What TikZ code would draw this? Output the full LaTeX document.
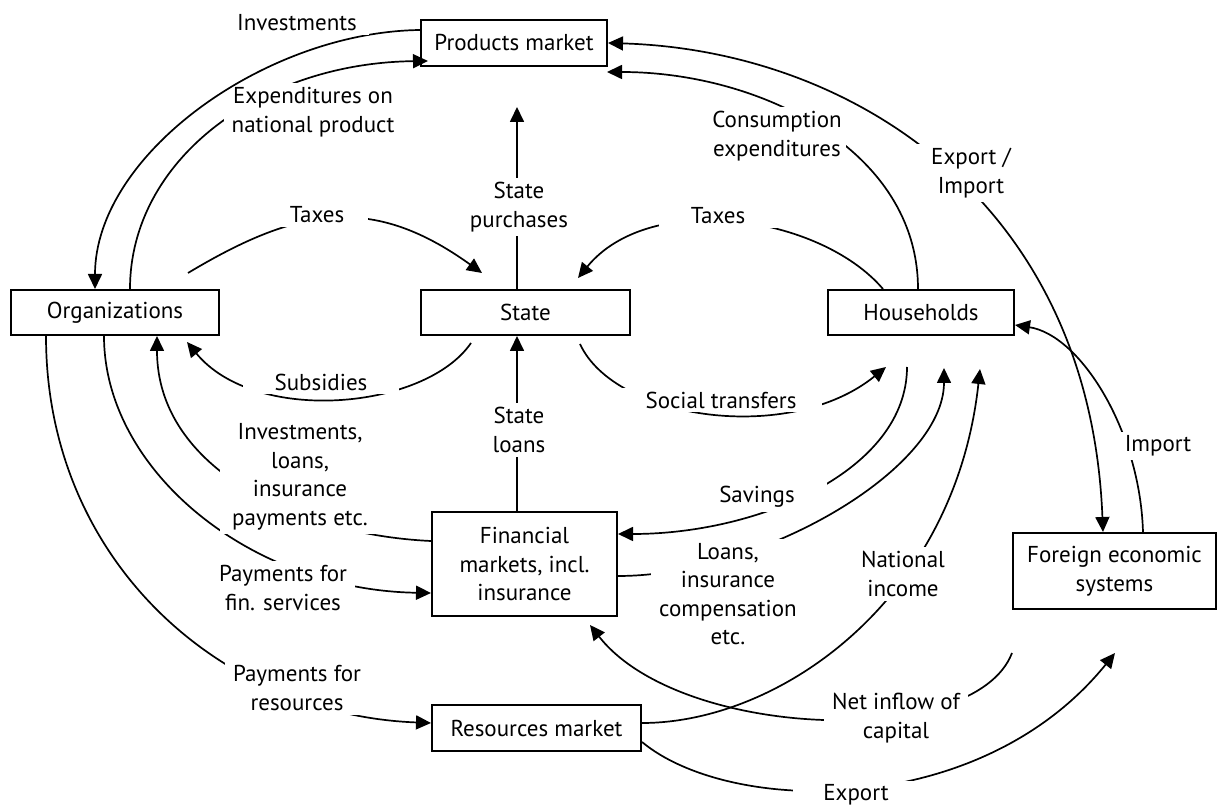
\documentclass[tikz,border=0pt]{standalone}
\usepackage{fontspec}
\setmainfont{PT Sans}
\usetikzlibrary{arrows.meta}
\newcommand{\lblfont}{\fontsize{11.5}{14.25}\selectfont}
\tikzset{
  box/.style={draw, line width=1pt, fill=white, inner sep=0pt, align=center, font=\lblfont},
  lab/.style={fill=white, inner xsep=4pt, inner ysep=2pt, align=center, font=\lblfont},
  flow/.style={line width=0.85pt, -{Triangle[length=7.5pt,width=7pt]}},
  both/.style={line width=0.85pt, {Triangle[length=7.5pt,width=7pt]}-{Triangle[length=7.5pt,width=7pt]}},
}
\begin{document}
\begin{tikzpicture}[x=0.5pt,y=-0.5pt]
\useasboundingbox (0,0) rectangle (1217,807);
% boxes
\node[box, minimum width=93pt, minimum height=23pt] (prod) at (514,43) {Products market};
\node[box, minimum width=104pt, minimum height=22.5pt] (org) at (115,312.5) {Organizations};
\node[box, minimum width=104.5pt, minimum height=22.5pt] (state) at (525.5,312.5) {State};
\node[box, minimum width=93pt, minimum height=22.5pt] (house) at (921,312.5) {Households};
\node[box, minimum width=92.5pt, minimum height=52pt] (fin) at (524.5,564) {Financial\\markets, incl.\\insurance};
\node[box, minimum width=104.5pt, minimum height=23pt] (res) at (536.5,728) {Resources market};
\node[box, minimum width=101.5pt, minimum height=38pt] (for) at (1114.5,571) {Foreign economic\\systems};
% free ends
\coordinate (spTip) at (517,107);
\coordinate (txLs) at (188,273);
\coordinate (txLe) at (482,273);
\coordinate (txRe) at (578,278);
\coordinate (consE) at (607,72);
\coordinate (subS) at (471,343);
\coordinate (subE) at (187,342);
\coordinate (stS) at (580,344);
\coordinate (stE) at (886,367);
\coordinate (savS) at (907,367);
\coordinate (loanE) at (944,368);
\coordinate (niE) at (980,369);
\coordinate (netS) at (1012,653);
\coordinate (netE) at (590,625);
\coordinate (expE) at (1115,653);
% connectors
\draw[flow] ([xshift=7.5pt]org.north) .. controls (130,160) and (260,63) .. ([xshift=4pt,yshift=-9pt]prod.west);
\draw[flow] ([xshift=-4.25pt]state.north) -- (spTip);
\draw[flow] (txLs) .. controls (298,207) and (372,194) .. (txLe);
\draw[flow] ([xshift=-19pt]house.north) .. controls (820,215) and (650,190) .. (txRe);
\draw[flow] ([xshift=-1.5pt]house.north) .. controls (918,150) and (760,72) .. (consE);
\draw[both] (prod.east) .. controls (850,50) and (1090,200) .. ([xshift=-5.75pt]for.north);
\draw[flow] ([xshift=14.25pt]for.north) .. controls (1140,430) and (1080,335) .. ([yshift=-6.25pt]house.east);
\draw[flow] (subS) .. controls (425,410) and (255,425) .. (subE);
\draw[flow] (stS) .. controls (615,420) and (790,445) .. (stE);
\draw[flow] ([xshift=-3.75pt]fin.north) -- ([xshift=-3.75pt]fin.north |- state.south);
\draw[flow] ([yshift=11.5pt]fin.west) .. controls (300,535) and (157,470) .. ([xshift=21pt]org.south);
\draw[flow] ([xshift=-5.5pt]org.south) .. controls (104,470) and (250,590) .. ([yshift=-14.5pt]fin.west);
\draw[flow] ([xshift=-34.5pt]org.south) .. controls (46,560) and (220,715) .. ([yshift=2.5pt]res.west);
\draw[flow] (savS) .. controls (907,470) and (760,534) .. ([yshift=15pt]fin.east);
\draw[flow] ([yshift=-6pt]fin.east) .. controls (760,576) and (944,470) .. (loanE);
\draw[flow] ([yshift=2.5pt]res.east) .. controls (780,723) and (955,600) .. (niE);
\draw[flow] (netS) .. controls (975,750) and (680,740) .. (netE);
\draw[flow] ([yshift=-7pt]res.east) .. controls (730,815) and (980,820) .. (expE);
% labels
\node[lab] (lExp) at (313,112) {Expenditures on\\national product};
\node[lab, inner xsep=12pt] (lTaxL) at (317,215) {Taxes};
\node[lab] (lSP) at (519,207) {State\\purchases};
\node[lab, inner xsep=16pt] (lTaxR) at (718,216) {Taxes};
\node[lab, inner xsep=2pt] (lCons) at (777,136) {Consumption\\expenditures};
\node[lab, inner xsep=10pt] (lEI) at (971,173) {Export /\\Import};
\node[lab, inner xsep=16pt] (lSub) at (321,382) {Subsidies};
\node[lab, inner xsep=13pt] (lST) at (721,400) {Social transfers};
\node[lab] (lSL) at (519,430) {State\\loans};
\node[lab, inner xsep=6pt] (lILI) at (300,477) {Investments,\\loans,\\insurance\\payments etc.};
\node[lab, inner xsep=16pt] (lSav) at (757,497) {Savings};
\node[lab] (lLoans) at (728,594) {Loans,\\insurance\\compensation\\etc.};
\node[lab] (lPFS) at (283,588) {Payments for\\fin. services};
\node[lab] (lPFR) at (297,688) {Payments for\\resources};
\node[lab] (lNI) at (903,574) {National\\income};
\node[lab] (lNet) at (896,718) {Net inflow of\\capital};
\node[lab, inner xsep=15pt] (lExport) at (856,795) {Export};
\node[lab] (lImport) at (1158,446) {Import};
% drawn last so that only its own label breaks it
\draw[flow] ([yshift=6.5pt]prod.west) .. controls (265,32) and (95,155) .. ([xshift=-10pt]org.north);
\node[lab, inner xsep=6pt] (lInv) at (297,23) {Investments};
\end{tikzpicture}
\end{document}
